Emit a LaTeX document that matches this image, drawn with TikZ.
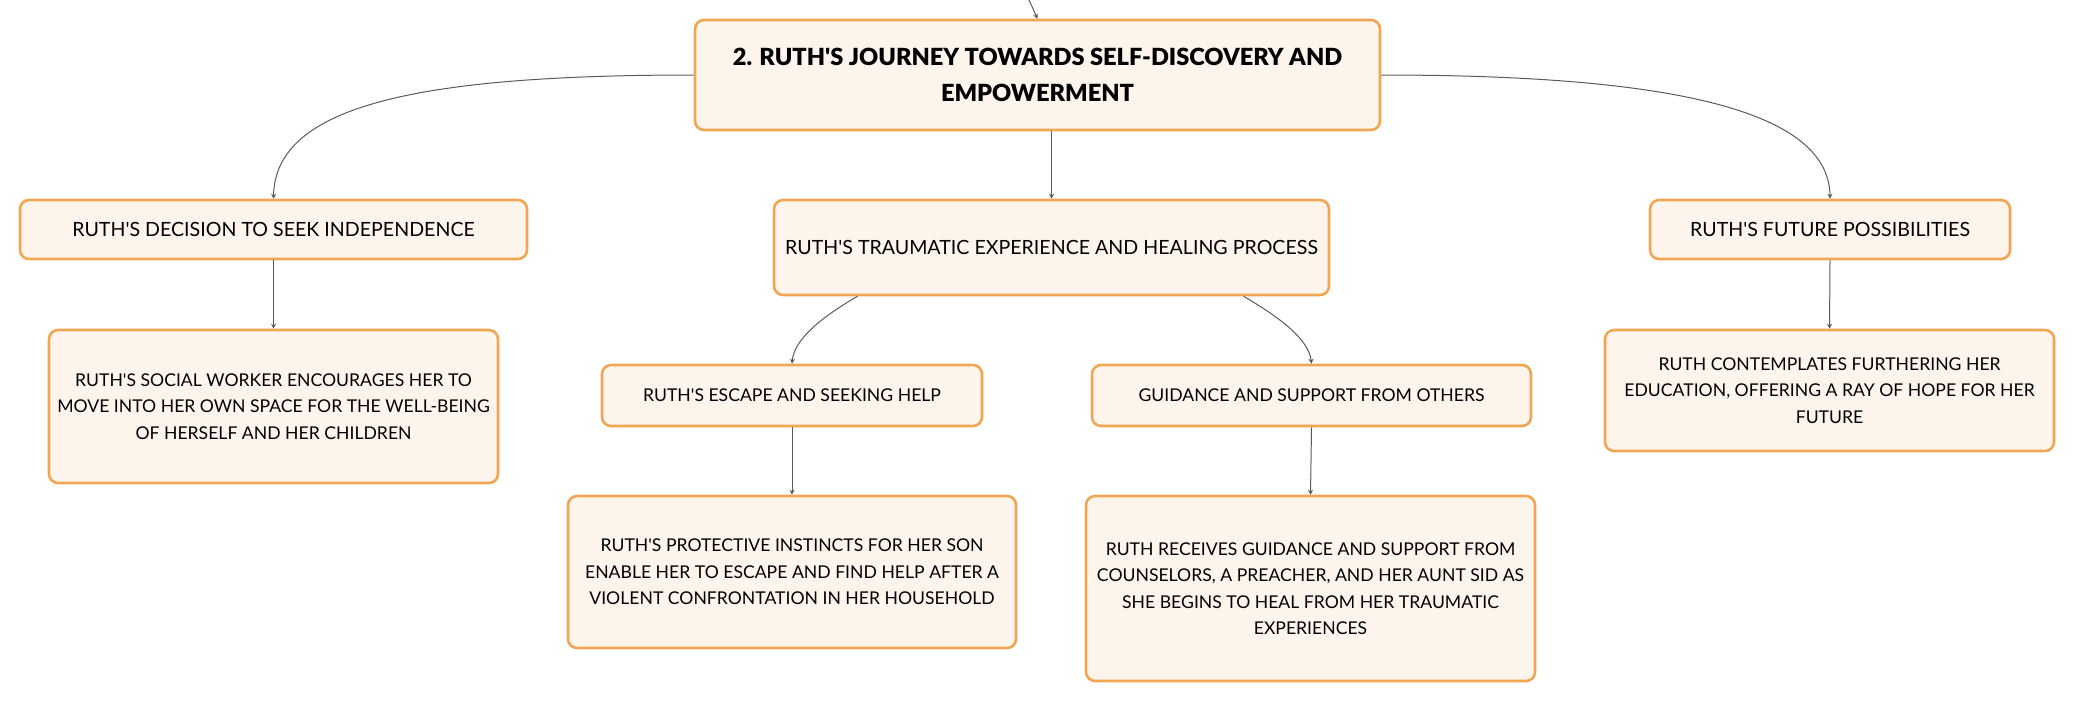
\documentclass[tikz,border=0pt]{standalone}
\usepackage{fontspec}
\setmainfont{Lato}
\newfontfamily\rootfont{Lato Black}
\usepackage{tikz}
\usetikzlibrary{arrows.meta}
\usetikzlibrary{positioning}
\definecolor{boxfill}{RGB}{253,244,235}
\definecolor{boxline}{RGB}{240,166,82}
\definecolor{linkgray}{RGB}{90,90,90}
\newcommand{\ap}{\textquotesingle}
\tikzstyle{map_box}=[draw=boxline, fill=boxfill, line width=1.3pt, rounded corners=4.5pt,
    align=center, inner sep=0pt, text=black]
\tikzstyle{root_box}=[map_box, font=\fontsize{11.8}{18}\selectfont\rootfont]
\tikzstyle{sub_box}=[map_box, font=\fontsize{9.8}{13.2}\selectfont]
\tikzstyle{leaf_box}=[map_box, font=\fontsize{8.8}{13.2}\selectfont]
\tikzstyle{link_line}=[draw=linkgray, line width=0.5pt, -{Stealth[length=2.5pt,width=2.5pt]}]

\begin{document}
\begin{tikzpicture}[x=0.5pt, y=-0.5pt]
\useasboundingbox (0,0) rectangle (2075,703);
\node[root_box, minimum width=342.5pt, minimum height=55pt] (root) at (1037.5,75)
    {2. RUTH\ap S JOURNEY TOWARDS SELF-DISCOVERY AND\\EMPOWERMENT};
\coordinate (incoming) at (1029,0);
\node[sub_box, minimum width=253.5pt, minimum height=29.5pt] (decision) at (273.5,229.5)
    {RUTH\ap S DECISION TO SEEK INDEPENDENCE};
\node[sub_box, minimum width=277.5pt, minimum height=47.5pt] (trauma) at (1051.5,247.5)
    {RUTH\ap S TRAUMATIC EXPERIENCE AND HEALING PROCESS};
\node[sub_box, minimum width=180pt, minimum height=29.5pt] (future) at (1830,229.5)
    {RUTH\ap S FUTURE POSSIBILITIES};
\node[leaf_box, minimum width=224.5pt, minimum height=76.5pt] (social) at (273.5,406.5)
    {RUTH\ap S SOCIAL WORKER ENCOURAGES HER TO\\MOVE INTO HER OWN SPACE FOR THE WELL-BEING\\OF HERSELF AND HER CHILDREN};
\node[leaf_box, minimum width=190pt, minimum height=30.5pt] (escape) at (792,395.5)
    {RUTH\ap S ESCAPE AND SEEKING HELP};
\node[leaf_box, minimum width=219.5pt, minimum height=30.5pt] (guidance) at (1311.5,395.5)
    {GUIDANCE AND SUPPORT FROM OTHERS};
\node[leaf_box, minimum width=224pt, minimum height=76pt] (protective) at (792,572)
    {RUTH\ap S PROTECTIVE INSTINCTS FOR HER SON\\ENABLE HER TO ESCAPE AND FIND HELP AFTER A\\VIOLENT CONFRONTATION IN HER HOUSEHOLD};
\node[leaf_box, minimum width=224.5pt, minimum height=92.5pt] (receives) at (1310.5,588.5)
    {RUTH RECEIVES GUIDANCE AND SUPPORT FROM\\COUNSELORS, A PREACHER, AND HER AUNT SID AS\\SHE BEGINS TO HEAL FROM HER TRAUMATIC\\EXPERIENCES};
\node[leaf_box, minimum width=224.5pt, minimum height=60.5pt] (contemplates) at (1829.5,390.5)
    {RUTH CONTEMPLATES FURTHERING HER\\EDUCATION, OFFERING A RAY OF HOPE FOR HER\\FUTURE};
% links from the root
\draw[link_line] (incoming) -- (root.north);
\draw[link_line] (root.west) .. controls (420,75) and (275,105) .. (decision.north);
\draw[link_line] (root.east) .. controls (1650,75) and (1829,105) .. (future.north);
\draw[link_line] (root.south -| trauma.north) -- (trauma.north);
% links below the branches
\draw[link_line] (decision.south) -- (social.north);
\draw[link_line] ([xshift=-97pt]trauma.south) .. controls (820,318) and (794,340) .. (escape.north);
\draw[link_line] ([xshift=96pt]trauma.south) .. controls (1281,318) and (1309,340) .. (guidance.north);
\draw[link_line] (escape.south) -- (protective.north);
\draw[link_line] (guidance.south) -- (receives.north);
\draw[link_line] (future.south) -- (contemplates.north);
\end{tikzpicture}
\end{document}
